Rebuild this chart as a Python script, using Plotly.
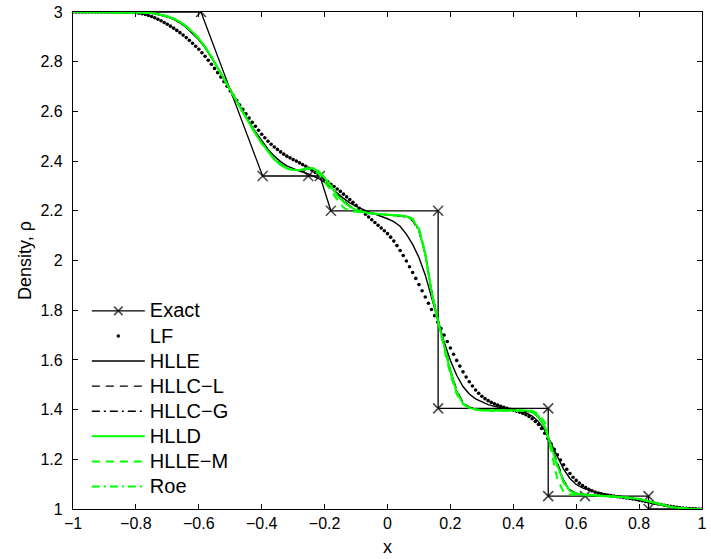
import plotly.graph_objects as go

# cell-centre grids (x positions of the numerical samples)
x_lf = [round(-1 + 0.01 * i, 2) for i in range(201)]
x_num = [round(-1 + 0.02 * i, 2) for i in range(101)]

# exact solution breakpoints
x_exact = [-1.0, -0.593, -0.397, -0.252, -0.215, -0.18, 0.161, 0.161, 0.511, 0.511, 0.628, 0.83, 0.83, 1.0]
rho_exact = [3.0, 3.0, 2.34, 2.34, 2.34, 2.2, 2.2, 1.405, 1.405, 1.052, 1.052, 1.052, 1.0, 1.0]

rho_lf = [
    3.0, 3.0, 3.0, 3.0, 3.0, 3.0, 3.0, 3.0, 3.0, 3.0,
    3.0, 3.0, 3.0, 3.0, 3.0, 3.0, 3.0, 2.9995, 2.999, 2.998,
    2.997, 2.995, 2.993, 2.99, 2.986, 2.982, 2.977, 2.971, 2.965, 2.958,
    2.951, 2.943, 2.935, 2.926, 2.917, 2.907, 2.897, 2.886, 2.874, 2.862,
    2.85, 2.836, 2.822, 2.806, 2.79, 2.773, 2.756, 2.738, 2.72, 2.701,
    2.682, 2.663, 2.645, 2.626, 2.608, 2.59, 2.573, 2.556, 2.54, 2.524,
    2.508, 2.494, 2.48, 2.468, 2.457, 2.447, 2.437, 2.428, 2.42, 2.413,
    2.406, 2.4, 2.393, 2.386, 2.379, 2.371, 2.363, 2.354, 2.345, 2.336,
    2.326, 2.317, 2.307, 2.298, 2.288, 2.278, 2.267, 2.256, 2.245, 2.234,
    2.222, 2.21, 2.198, 2.186, 2.175, 2.164, 2.153, 2.142, 2.131, 2.12,
    2.108, 2.094, 2.078, 2.06, 2.04, 2.02, 1.998, 1.975, 1.952, 1.928,
    1.903, 1.878, 1.853, 1.828, 1.803, 1.778, 1.752, 1.726, 1.7, 1.674,
    1.648, 1.623, 1.598, 1.575, 1.552, 1.531, 1.512, 1.495, 1.479, 1.466,
    1.454, 1.444, 1.436, 1.429, 1.423, 1.418, 1.413, 1.409, 1.405, 1.401,
    1.398, 1.394, 1.39, 1.385, 1.379, 1.372, 1.363, 1.352, 1.34, 1.324,
    1.305, 1.284, 1.262, 1.24, 1.218, 1.197, 1.178, 1.16, 1.143, 1.128,
    1.115, 1.104, 1.094, 1.086, 1.079, 1.073, 1.068, 1.064, 1.061, 1.058,
    1.056, 1.054, 1.052, 1.05, 1.048, 1.046, 1.044, 1.042, 1.04, 1.038,
    1.035, 1.033, 1.03, 1.028, 1.025, 1.023, 1.02, 1.018, 1.015, 1.013,
    1.011, 1.009, 1.007, 1.005, 1.004, 1.003, 1.002, 1.001, 1.001, 1.0,
    1.0,
]

rho_hlle = [
    3.0, 3.0, 3.0, 3.0, 3.0, 3.0, 3.0, 3.0, 3.0, 3.0,
    3.0, 2.999, 2.997, 2.993, 2.988, 2.98, 2.97, 2.956, 2.938, 2.915,
    2.888, 2.856, 2.818, 2.776, 2.732, 2.688, 2.643, 2.6, 2.558, 2.518,
    2.481, 2.448, 2.42, 2.398, 2.381, 2.369, 2.36, 2.352, 2.343, 2.331,
    2.315, 2.295, 2.272, 2.25, 2.232, 2.218, 2.206, 2.196, 2.187, 2.178,
    2.168, 2.156, 2.138, 2.106, 2.065, 2.012, 1.942, 1.852, 1.758, 1.672,
    1.598, 1.538, 1.493, 1.463, 1.443, 1.43, 1.42, 1.413, 1.408, 1.404,
    1.4, 1.396, 1.388, 1.374, 1.352, 1.316, 1.262, 1.208, 1.16, 1.123,
    1.099, 1.085, 1.075, 1.068, 1.062, 1.058, 1.054, 1.05, 1.046, 1.042,
    1.037, 1.031, 1.025, 1.019, 1.013, 1.009, 1.005, 1.003, 1.001, 1.0,
    1.0,
]

rho_hllc_l = [
    3.0, 3.0, 3.0, 3.0, 3.0, 3.0, 3.0, 3.0, 3.0, 3.0,
    3.0, 2.999, 2.997, 2.994, 2.989, 2.982, 2.972, 2.959, 2.941, 2.919,
    2.892, 2.859, 2.82, 2.777, 2.733, 2.688, 2.642, 2.598, 2.554, 2.513,
    2.474, 2.44, 2.41, 2.388, 2.373, 2.364, 2.362, 2.366, 2.368, 2.358,
    2.333, 2.3, 2.266, 2.24, 2.22, 2.205, 2.196, 2.19, 2.188, 2.186,
    2.185, 2.183, 2.181, 2.176, 2.16, 2.118, 2.025, 1.88, 1.762, 1.66,
    1.56, 1.478, 1.43, 1.41, 1.402, 1.398, 1.397, 1.397, 1.397, 1.397,
    1.397, 1.396, 1.394, 1.388, 1.37, 1.328, 1.258, 1.18, 1.115, 1.077,
    1.064, 1.059, 1.057, 1.055, 1.054, 1.052, 1.05, 1.048, 1.046, 1.044,
    1.04, 1.034, 1.027, 1.02, 1.014, 1.009, 1.005, 1.002, 1.001, 1.0,
    1.0,
]

rho_hllc_g = [
    3.0, 3.0, 3.0, 3.0, 3.0, 3.0, 3.0, 3.0, 3.0, 3.0,
    3.0, 2.999, 2.997, 2.994, 2.989, 2.982, 2.972, 2.959, 2.941, 2.919,
    2.892, 2.859, 2.82, 2.777, 2.733, 2.688, 2.642, 2.598, 2.554, 2.512,
    2.473, 2.439, 2.409, 2.387, 2.372, 2.364, 2.362, 2.367, 2.369, 2.358,
    2.333, 2.299, 2.265, 2.239, 2.219, 2.204, 2.196, 2.19, 2.188, 2.186,
    2.185, 2.183, 2.181, 2.177, 2.162, 2.12, 2.025, 1.878, 1.761, 1.658,
    1.558, 1.475, 1.428, 1.409, 1.401, 1.398, 1.397, 1.396, 1.397, 1.397,
    1.397, 1.396, 1.395, 1.389, 1.371, 1.329, 1.256, 1.178, 1.113, 1.075,
    1.063, 1.058, 1.056, 1.055, 1.054, 1.052, 1.05, 1.048, 1.046, 1.044,
    1.04, 1.034, 1.027, 1.02, 1.014, 1.009, 1.005, 1.002, 1.001, 1.0,
    1.0,
]

rho_hlld = [
    3.0, 3.0, 3.0, 3.0, 3.0, 3.0, 3.0, 3.0, 3.0, 3.0,
    3.0, 2.999, 2.997, 2.994, 2.99, 2.983, 2.973, 2.96, 2.942, 2.92,
    2.893, 2.86, 2.82, 2.777, 2.733, 2.688, 2.642, 2.597, 2.553, 2.511,
    2.472, 2.437, 2.407, 2.385, 2.371, 2.364, 2.363, 2.369, 2.372, 2.36,
    2.333, 2.298, 2.262, 2.236, 2.217, 2.203, 2.195, 2.19, 2.188, 2.186,
    2.185, 2.184, 2.182, 2.178, 2.165, 2.125, 2.025, 1.875, 1.76, 1.655,
    1.555, 1.47, 1.425, 1.407, 1.4, 1.397, 1.396, 1.396, 1.396, 1.397,
    1.397, 1.397, 1.396, 1.39, 1.372, 1.33, 1.255, 1.175, 1.11, 1.073,
    1.062, 1.058, 1.056, 1.055, 1.054, 1.052, 1.05, 1.048, 1.046, 1.044,
    1.04, 1.034, 1.027, 1.02, 1.014, 1.009, 1.005, 1.002, 1.001, 1.0,
    1.0,
]

rho_hlle_m = [
    3.0, 3.0, 3.0, 3.0, 3.0, 3.0, 3.0, 3.0, 3.0, 3.0,
    3.0, 2.999, 2.997, 2.994, 2.99, 2.983, 2.973, 2.96, 2.942, 2.92,
    2.893, 2.86, 2.82, 2.777, 2.733, 2.688, 2.642, 2.597, 2.553, 2.511,
    2.472, 2.437, 2.407, 2.385, 2.371, 2.365, 2.364, 2.368, 2.368, 2.35,
    2.318, 2.282, 2.245, 2.213, 2.199, 2.196, 2.193, 2.19, 2.188, 2.186,
    2.185, 2.184, 2.182, 2.179, 2.168, 2.128, 2.03, 1.87, 1.755, 1.645,
    1.54, 1.462, 1.422, 1.406, 1.4, 1.397, 1.396, 1.396, 1.397, 1.397,
    1.398, 1.398, 1.398, 1.395, 1.382, 1.35, 1.235, 1.12, 1.068, 1.058,
    1.057, 1.056, 1.055, 1.055, 1.054, 1.052, 1.05, 1.048, 1.046, 1.044,
    1.04, 1.034, 1.027, 1.02, 1.014, 1.009, 1.005, 1.002, 1.001, 1.0,
    1.0,
]

rho_roe = [
    3.0, 3.0, 3.0, 3.0, 3.0, 3.0, 3.0, 3.0, 3.0, 3.0,
    3.0, 2.999, 2.997, 2.994, 2.99, 2.983, 2.973, 2.96, 2.942, 2.92,
    2.893, 2.86, 2.82, 2.777, 2.733, 2.688, 2.642, 2.597, 2.553, 2.511,
    2.472, 2.437, 2.407, 2.385, 2.371, 2.364, 2.363, 2.37, 2.373, 2.361,
    2.334, 2.299, 2.263, 2.237, 2.217, 2.203, 2.195, 2.19, 2.188, 2.186,
    2.185, 2.184, 2.182, 2.178, 2.166, 2.127, 2.028, 1.876, 1.76, 1.654,
    1.553, 1.468, 1.424, 1.407, 1.4, 1.397, 1.396, 1.396, 1.396, 1.397,
    1.397, 1.397, 1.396, 1.391, 1.374, 1.333, 1.255, 1.172, 1.107, 1.071,
    1.061, 1.058, 1.056, 1.055, 1.054, 1.052, 1.05, 1.048, 1.046, 1.044,
    1.04, 1.034, 1.027, 1.02, 1.014, 1.009, 1.005, 1.002, 1.001, 1.0,
    1.0,
]

x_ticks = [-1, -0.8, -0.6, -0.4, -0.2, 0, 0.2, 0.4, 0.6, 0.8, 1]
y_ticks = [1, 1.2, 1.4, 1.6, 1.8, 2, 2.2, 2.4, 2.6, 2.8, 3]

BLACK = "#000000"
GREEN = "#00ff00"
FONT = "Liberation Sans, Arial, Helvetica, sans-serif"


def legend_name(label):
    return "<span style='font-size:20px'>" + label + "</span>"


fig = go.Figure()

exact_sizes = [0] + [10] * (len(x_exact) - 2) + [0]
fig.add_trace(go.Scatter(
    x=x_exact, y=rho_exact, name=legend_name("Exact"), mode="lines+markers",
    line=dict(color=BLACK, width=1.3),
    marker=dict(symbol="x-thin", size=exact_sizes, color=BLACK,
                line=dict(color=BLACK, width=1.6)),
    legendgroup="g1",
))
fig.add_trace(go.Scatter(
    x=x_lf, y=rho_lf, name=legend_name("LF"), mode="markers",
    marker=dict(symbol="circle", size=3.6, color=BLACK, line=dict(width=0)),
    legendgroup="g2",
))
fig.add_trace(go.Scatter(
    x=x_num, y=rho_hlle, name=legend_name("HLLE"), mode="lines",
    line=dict(color=BLACK, width=1.4), legendgroup="g3",
))
fig.add_trace(go.Scatter(
    x=x_num, y=rho_hllc_l, name=legend_name("HLLC\u2212L"), mode="lines",
    line=dict(color=BLACK, width=1.4, dash="8px,6px"), legendgroup="g4",
))
fig.add_trace(go.Scatter(
    x=x_num, y=rho_hllc_g, name=legend_name("HLLC\u2212G"), mode="lines",
    line=dict(color=BLACK, width=1.4, dash="8px,4px,2px,4px"), legendgroup="g5",
))
fig.add_trace(go.Scatter(
    x=x_num, y=rho_hlld, name=legend_name("HLLD"), mode="lines",
    line=dict(color=GREEN, width=2), legendgroup="g6",
))
fig.add_trace(go.Scatter(
    x=x_num, y=rho_hlle_m, name=legend_name("HLLE\u2212M"), mode="lines",
    line=dict(color=GREEN, width=2, dash="8px,6px"), legendgroup="g7",
))
fig.add_trace(go.Scatter(
    x=x_num, y=rho_roe, name=legend_name("Roe"), mode="lines",
    line=dict(color=GREEN, width=2, dash="8px,4px,2px,4px"), legendgroup="g8",
))

axis_common = dict(
    showline=True, linecolor=BLACK, linewidth=1.2, mirror="allticks",
    ticks="inside", ticklen=5, tickcolor=BLACK, tickwidth=1,
    showgrid=False, zeroline=False,
    tickfont=dict(family=FONT, size=16, color=BLACK),
)

fig.update_layout(
    width=711, height=559,
    margin=dict(l=73, r=4, t=10, b=50),
    paper_bgcolor="white", plot_bgcolor="white",
    font=dict(family=FONT, color=BLACK),
    xaxis=dict(range=[-1, 1], tickvals=x_ticks, ticklabelstandoff=0,
               title=dict(text="x", font=dict(family=FONT, size=18), standoff=9),
               **axis_common),
    yaxis=dict(range=[1, 3], tickvals=y_ticks, ticklabelstandoff=6,
               title=dict(text="Density, \u03c1", font=dict(family=FONT, size=18), standoff=4),
               **axis_common),
    legend=dict(
        x=0.022, y=0.434, xanchor="left", yanchor="top",
        bgcolor="rgba(255,255,255,0)", borderwidth=0,
        font=dict(family=FONT, size=17, color=BLACK),
        traceorder="grouped", tracegroupgap=0, itemwidth=53,
    ),
    showlegend=True,
)

fig.write_html("out.html", config={"displayModeBar": False},
               post_script="document.body.style.margin='0';")
